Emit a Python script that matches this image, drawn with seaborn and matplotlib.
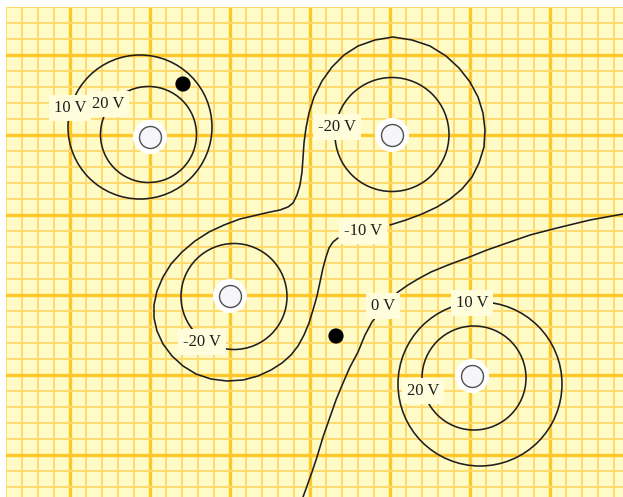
import matplotlib
matplotlib.use("Agg")
import matplotlib.pyplot as plt
import seaborn as sns
import pandas as pd
import numpy as np
from matplotlib.patches import Circle

sns.set_theme(style="white")
plt.rcParams['font.family'] = ['Liberation Serif', 'DejaVu Serif']

# sheet coordinates (pixels on the graph paper)
# source charges
charge_x = [150, 392, 230, 472]
charge_y = [137, 135, 296, 376]

# black test dots
dot_x = [183, 336]
dot_y = [84, 336]

# round equipotentials: centre and radius
circle_cx = [148.5, 140, 392, 234, 474, 480]
circle_cy = [134.5, 127, 134.5, 296.5, 378, 384]
circle_r = [48, 72, 57, 53, 52, 82]

# -10 V loop round both negative charges
minus10_x = [390, 406, 422, 437, 450, 462, 472, 479, 484, 485, 483, 478, 470, 459, 446, 430,
             412, 393, 375, 358, 344, 332, 322, 314, 309, 306, 304, 303, 302, 300, 297, 293,
             288, 280, 270, 257, 240, 224, 209, 195, 182, 171, 163, 157, 154, 154, 157, 163,
             172, 183, 196, 211, 227, 243, 258, 271, 282, 291, 298, 304, 309, 313, 317, 320,
             323, 326, 329, 333, 338]
minus10_y = [225, 220, 214, 207, 199, 189, 177, 163, 147, 130, 113, 97, 82, 68, 56, 46,
             40, 37, 40, 46, 55, 67, 81, 97, 113, 128, 143, 158, 172, 185, 195, 203,
             207, 210, 212, 215, 219, 225, 232, 241, 252, 264, 277, 291, 305, 318, 331, 344,
             356, 366, 374, 379, 381, 380, 376, 370, 363, 355, 346, 335, 323, 310, 296, 282,
             268, 257, 248, 242, 238]

# 0 V line
zero_x = [623, 590, 557, 530, 507, 487, 467, 448, 431, 418, 408, 398,
          384, 372, 365, 358, 350, 343, 336, 330, 323, 317, 312, 307, 303]
zero_y = [214, 220, 228, 235, 243, 250, 258, 265, 272, 279, 285, 292,
          306, 322, 335, 352, 367, 383, 400, 417, 437, 457, 472, 486, 497]

label_text = ['10 V', '20 V', '-20 V', '-10 V', '-20 V', '0 V', '10 V', '20 V']
label_x = [70, 108, 337, 363, 202, 383, 472, 423]
label_y = [108, 104, 127, 231, 342, 306, 303, 391]

fig = plt.figure(figsize=(6.23, 4.97), dpi=100)
fig.patch.set_facecolor('white')
ax = fig.add_axes([6 / 623, 0, 617 / 623, 490 / 497])
ax.set_facecolor('#FFFBC6')

# graph paper grid
ax.set_xticks(np.arange(70, 623, 80))
ax.set_xticks(np.arange(6, 623, 16), minor=True)
ax.set_yticks(np.arange(55, 497, 80))
ax.set_yticks(np.arange(7, 497, 16), minor=True)
ax.tick_params(which='both', length=0, labelbottom=False, labelleft=False)
ax.grid(which='minor', color='#FFDA6E', lw=1.4)
ax.grid(which='major', color='#FFC72A', lw=2.4)
ax.set_axisbelow(True)
for s in ax.spines.values():
    s.set_visible(False)

line_kw = dict(color='#1e1e1e', lw=1.15)
for cx, cy, r in zip(circle_cx, circle_cy, circle_r):
    ax.add_patch(Circle((cx, cy), r, fill=False, zorder=3, **line_kw))

sns.lineplot(x=minus10_x, y=minus10_y, sort=False, estimator=None, ax=ax, zorder=3,
             solid_joinstyle='round', **line_kw)
sns.lineplot(x=zero_x, y=zero_y, sort=False, estimator=None, ax=ax, zorder=3,
             solid_joinstyle='round', **line_kw)

for t, x, y in zip(label_text, label_x, label_y):
    ax.text(x, y, t, fontsize=12, ha='center', va='center', color='#1e1e1e', zorder=5,
            bbox=dict(boxstyle='square,pad=0.3', fc='#FFFDDC', ec='none'))

charges = pd.DataFrame({'x': charge_x, 'y': charge_y})
sns.scatterplot(data=charges, x='x', y='y', s=600, color='white', edgecolor='none',
                ax=ax, zorder=6)
sns.scatterplot(data=charges, x='x', y='y', s=250, color='#F6F6FA', edgecolor='#505050',
                linewidth=1.0, ax=ax, zorder=7)
sns.scatterplot(x=dot_x, y=dot_y, s=120, color='black', edgecolor='none', ax=ax, zorder=7)

ax.set_xlabel('')
ax.set_ylabel('')
ax.set_xlim(6, 623)
ax.set_ylim(497, 7)
fig.savefig('out.png', dpi=100, facecolor='white')
